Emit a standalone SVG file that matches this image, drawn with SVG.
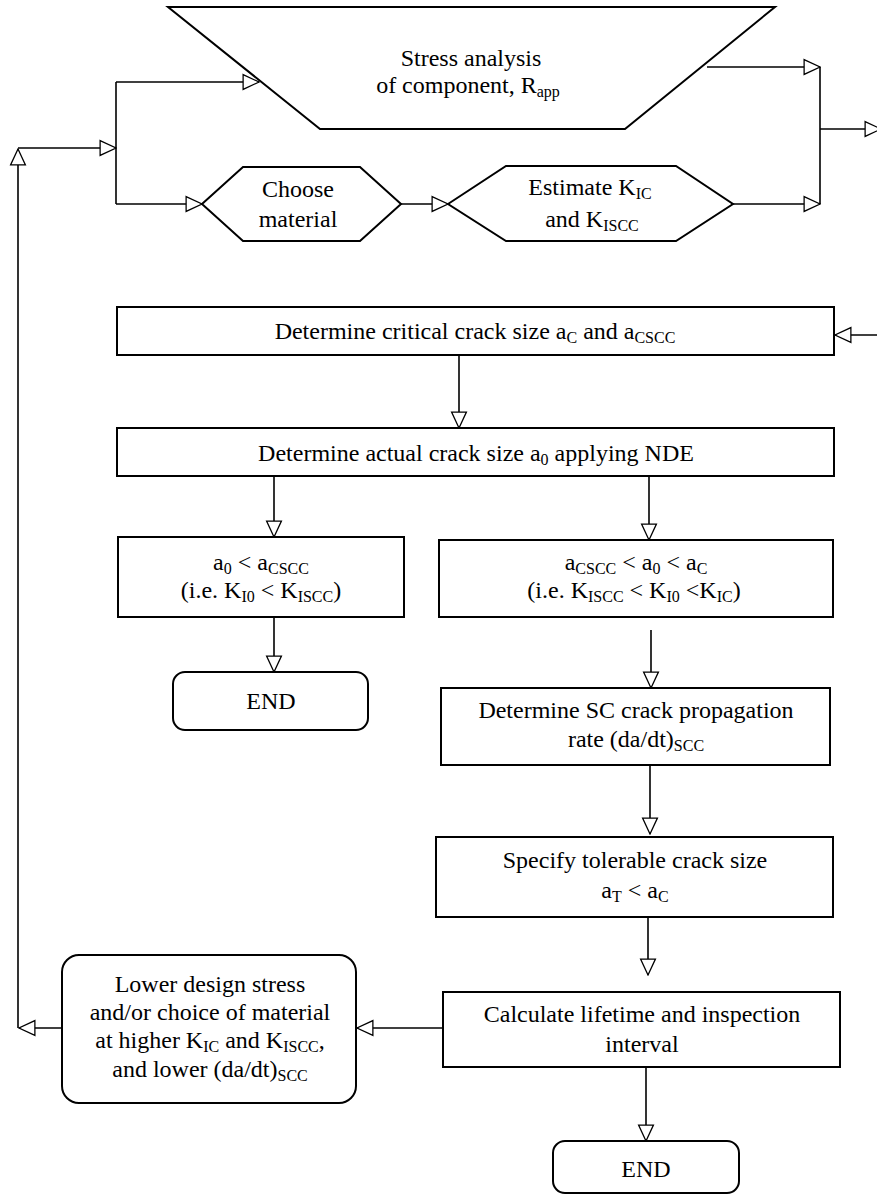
<svg xmlns="http://www.w3.org/2000/svg" width="877" height="1196" viewBox="0 0 877 1196">
<style>
  .shape { fill: #ffffff; stroke: #000000; stroke-width: 2; }
  .conn { fill: none; stroke: #000000; stroke-width: 1.6; }
  text { font-family: "Liberation Serif", "Times New Roman", serif; font-size: 24px; fill: #000000; text-anchor: middle; }
  .sub { font-size: 16px; }
</style>
<defs>
  <marker id="arr" markerUnits="userSpaceOnUse" markerWidth="18" markerHeight="18" viewBox="-1 -8 17 16" refX="15" refY="0" orient="auto">
    <path d="M0,-7 L15,0 L0,7 Z" fill="#ffffff" stroke="#000000" stroke-width="1.2"/>
  </marker>
</defs>
<rect width="877" height="1196" fill="#ffffff"/>

<g id="connectors">
  <line class="conn" x1="62" y1="1028" x2="19" y2="1028" marker-end="url(#arr)"/>
  <line class="conn" x1="18" y1="1028" x2="18" y2="149" marker-end="url(#arr)"/>
  <line class="conn" x1="18" y1="148" x2="116" y2="148" marker-end="url(#arr)"/>
  <line class="conn" x1="116" y1="82" x2="116" y2="204"/>
  <line class="conn" x1="116" y1="82" x2="259" y2="82" marker-end="url(#arr)"/>
  <line class="conn" x1="116" y1="204" x2="202" y2="204" marker-end="url(#arr)"/>
  <line class="conn" x1="401" y1="204" x2="448" y2="204" marker-end="url(#arr)"/>
  <line class="conn" x1="707" y1="67" x2="820" y2="67" marker-end="url(#arr)"/>
  <line class="conn" x1="733" y1="204" x2="820" y2="204" marker-end="url(#arr)"/>
  <line class="conn" x1="820" y1="67" x2="820" y2="204"/>
  <line class="conn" x1="820" y1="129" x2="881" y2="129" marker-end="url(#arr)"/>
  <line class="conn" x1="877" y1="335" x2="835" y2="335" marker-end="url(#arr)"/>
  <line class="conn" x1="459" y1="355" x2="459" y2="428" marker-end="url(#arr)"/>
  <line class="conn" x1="274" y1="476" x2="274" y2="537" marker-end="url(#arr)"/>
  <line class="conn" x1="649" y1="476" x2="649" y2="540" marker-end="url(#arr)"/>
  <line class="conn" x1="274" y1="617" x2="274" y2="672" marker-end="url(#arr)"/>
  <line class="conn" x1="651" y1="630" x2="651" y2="688" marker-end="url(#arr)"/>
  <line class="conn" x1="650" y1="766" x2="650" y2="834" marker-end="url(#arr)"/>
  <line class="conn" x1="648" y1="917" x2="648" y2="975" marker-end="url(#arr)"/>
  <line class="conn" x1="443" y1="1028" x2="357" y2="1028" marker-end="url(#arr)"/>
  <line class="conn" x1="646" y1="1067" x2="646" y2="1141" marker-end="url(#arr)"/>
</g>

<g id="stress-analysis">
  <polygon class="shape" points="168,7 775,7 625,129 320,129"/>
  <text x="471" y="66">Stress analysis</text>
  <text x="468" y="93">of component, R<tspan class="sub" dy="4">app</tspan></text>
</g>

<g id="choose-material">
  <polygon class="shape" points="202,204 243,167 360,167 401,204 360,241 243,241"/>
  <text x="298" y="197">Choose</text>
  <text x="298" y="227">material</text>
</g>

<g id="estimate-k">
  <polygon class="shape" points="448,204 506,166 676,166 733,204 676,241 506,241"/>
  <text x="590" y="195">Estimate K<tspan class="sub" dy="4">IC</tspan></text>
  <text x="592" y="227">and K<tspan class="sub" dy="4">ISCC</tspan></text>
</g>

<g id="critical-crack">
  <rect class="shape" x="117" y="307" width="717" height="48"/>
  <text x="475" y="339">Determine critical crack size a<tspan class="sub" dy="4">C</tspan><tspan dy="-4"> and a</tspan><tspan class="sub" dy="4">CSCC</tspan></text>
</g>

<g id="actual-crack">
  <rect class="shape" x="117" y="428" width="717" height="48"/>
  <text x="476" y="461">Determine actual crack size a<tspan class="sub" dy="4">0</tspan><tspan dy="-4"> applying NDE</tspan></text>
</g>

<g id="case-below">
  <rect class="shape" x="118" y="537" width="286" height="80"/>
  <text x="261" y="570">a<tspan class="sub" dy="4">0</tspan><tspan dy="-4"> &lt; a</tspan><tspan class="sub" dy="4">CSCC</tspan></text>
  <text x="261" y="598">(i.e. K<tspan class="sub" dy="4">I0</tspan><tspan dy="-4"> &lt; K</tspan><tspan class="sub" dy="4">ISCC</tspan><tspan dy="-4">)</tspan></text>
</g>

<g id="end-1">
  <rect class="shape" x="173" y="672" width="195" height="58" rx="12" ry="12"/>
  <text x="271" y="709">END</text>
</g>

<g id="case-between">
  <rect class="shape" x="439" y="540" width="394" height="77"/>
  <text x="636" y="570">a<tspan class="sub" dy="4">CSCC</tspan><tspan dy="-4"> &lt; a</tspan><tspan class="sub" dy="4">0</tspan><tspan dy="-4"> &lt; a</tspan><tspan class="sub" dy="4">C</tspan></text>
  <text x="634" y="598">(i.e. K<tspan class="sub" dy="4">ISCC</tspan><tspan dy="-4"> &lt; K</tspan><tspan class="sub" dy="4">I0</tspan><tspan dy="-4"> &lt;K</tspan><tspan class="sub" dy="4">IC</tspan><tspan dy="-4">)</tspan></text>
</g>

<g id="sc-rate">
  <rect class="shape" x="441" y="688" width="389" height="77"/>
  <text x="636" y="718">Determine SC crack propagation</text>
  <text x="636" y="747">rate (da/dt)<tspan class="sub" dy="4">SCC</tspan></text>
</g>

<g id="tolerable">
  <rect class="shape" x="436" y="837" width="397" height="80"/>
  <text x="635" y="868">Specify tolerable crack size</text>
  <text x="635" y="898">a<tspan class="sub" dy="4">T</tspan><tspan dy="-4"> &lt; a</tspan><tspan class="sub" dy="4">C</tspan></text>
</g>

<g id="lifetime">
  <rect class="shape" x="443" y="992" width="397" height="75"/>
  <text x="642" y="1022">Calculate lifetime and inspection</text>
  <text x="642" y="1052">interval</text>
</g>

<g id="lower-stress">
  <rect class="shape" x="62" y="955" width="294" height="148" rx="17" ry="17"/>
  <text x="210" y="992">Lower design stress</text>
  <text x="210" y="1020">and/or choice of material</text>
  <text x="210" y="1048">at higher K<tspan class="sub" dy="4">IC</tspan><tspan dy="-4"> and K</tspan><tspan class="sub" dy="4">ISCC</tspan><tspan dy="-4">,</tspan></text>
  <text x="210" y="1077">and lower (da/dt)<tspan class="sub" dy="4">SCC</tspan></text>
</g>

<g id="end-2">
  <rect class="shape" x="553" y="1141" width="186" height="52" rx="12" ry="12"/>
  <text x="646" y="1177">END</text>
</g>
</svg>
